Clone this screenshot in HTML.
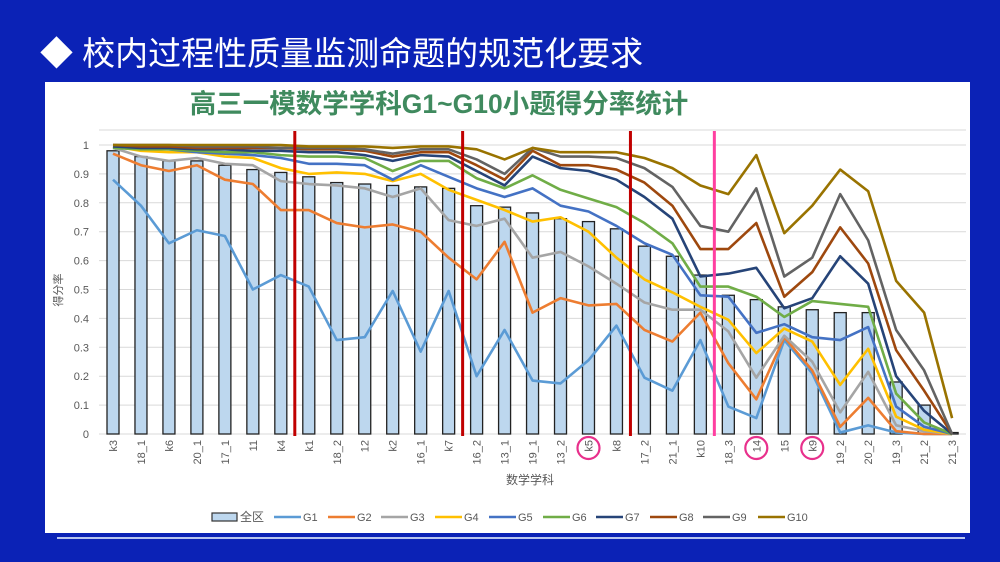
<!DOCTYPE html>
<html><head><meta charset="utf-8"><style>
body{margin:0;width:1000px;height:562px;overflow:hidden;background:#0b22b6;font-family:"Liberation Sans","Noto Sans CJK SC",sans-serif;}
#hdr{position:absolute;left:40px;top:27px;color:#fff;font-size:33px;font-family:"Liberation Sans","Noto Sans CJK SC",sans-serif;}
#panel{position:absolute;left:45px;top:82px;width:925px;height:451px;background:#fff;}
#ln{position:absolute;left:57px;top:537px;width:908px;height:2px;background:#b8c4f0;}
svg{position:absolute;left:0;top:0;}
</style></head><body>
<div id="hdr">◆&nbsp;校内过程性质量监测命题的规范化要求</div>
<div id="panel"></div><div id="ln"></div>
<svg id="s" width="1000" height="562" font-family="Liberation Sans, Noto Sans CJK SC, sans-serif"></svg>
<script>
const cats=["k3","18_1","k6","20_1","17_1","11","k4","k1","18_2","12","k2","16_1","k7","16_2","13_1","19_1","13_2","k5","k8","17_2","21_1","k10","18_3","14","15","k9","19_2","20_2","19_3","21_2","21_3"];
const bars=[0.98,0.96,0.945,0.945,0.93,0.915,0.905,0.89,0.87,0.865,0.86,0.855,0.85,0.79,0.785,0.765,0.745,0.735,0.71,0.65,0.615,0.55,0.48,0.465,0.44,0.43,0.42,0.42,0.18,0.1,0.005];
const S=[
["#5b9bd5",[0.88,0.79,0.66,0.705,0.685,0.5,0.55,0.51,0.325,0.335,0.495,0.285,0.495,0.2,0.36,0.185,0.175,0.255,0.375,0.195,0.15,0.325,0.095,0.055,0.325,0.21,0.005,0.03,0.005,0,0]],
["#ed7d31",[0.97,0.93,0.91,0.93,0.88,0.865,0.775,0.775,0.73,0.715,0.725,0.7,0.61,0.535,0.665,0.42,0.47,0.445,0.45,0.36,0.32,0.42,0.245,0.12,0.335,0.22,0.025,0.125,0.01,0,0]],
["#a5a5a5",[0.99,0.96,0.945,0.955,0.935,0.93,0.875,0.865,0.86,0.85,0.82,0.85,0.74,0.72,0.745,0.61,0.63,0.58,0.52,0.455,0.43,0.43,0.355,0.195,0.34,0.25,0.075,0.215,0.03,0.01,0]],
["#ffc000",[0.995,0.98,0.975,0.975,0.96,0.955,0.92,0.9,0.905,0.9,0.875,0.9,0.845,0.81,0.775,0.735,0.75,0.7,0.61,0.535,0.49,0.44,0.395,0.28,0.365,0.32,0.17,0.295,0.06,0.015,0]],
["#4472c4",[0.995,0.99,0.985,0.975,0.97,0.965,0.955,0.935,0.935,0.93,0.88,0.93,0.89,0.85,0.82,0.85,0.79,0.77,0.72,0.66,0.62,0.48,0.475,0.35,0.38,0.335,0.325,0.37,0.095,0.025,0]],
["#70ad47",[0.99,0.985,0.985,0.98,0.975,0.975,0.965,0.96,0.96,0.955,0.91,0.945,0.945,0.885,0.85,0.895,0.845,0.815,0.785,0.73,0.66,0.51,0.51,0.475,0.405,0.46,0.45,0.44,0.14,0.04,0]],
["#264478",[0.995,0.99,0.99,0.985,0.985,0.98,0.98,0.975,0.975,0.965,0.945,0.965,0.96,0.91,0.86,0.96,0.92,0.91,0.88,0.82,0.745,0.545,0.555,0.575,0.435,0.47,0.615,0.52,0.2,0.08,0]],
["#9e480e",[1,0.995,0.995,0.99,0.99,0.99,0.99,0.985,0.985,0.98,0.96,0.975,0.975,0.93,0.88,0.98,0.93,0.93,0.915,0.87,0.79,0.64,0.64,0.73,0.475,0.56,0.715,0.59,0.29,0.15,0]],
["#636363",[1,1,1,0.995,0.995,0.995,0.99,0.99,0.99,0.985,0.97,0.985,0.985,0.95,0.9,0.99,0.96,0.96,0.955,0.92,0.855,0.72,0.7,0.85,0.545,0.61,0.83,0.67,0.36,0.22,0]],
["#997300",[1,1,1,1,1,1,1,0.995,0.995,0.995,0.99,0.995,0.995,0.985,0.95,0.99,0.975,0.975,0.975,0.955,0.92,0.86,0.83,0.965,0.695,0.79,0.915,0.84,0.53,0.42,0.055]]];
const X=i=>113+27.97*i, Y=v=>434-289*v;
let h='';
h+='<text x="439" y="113" text-anchor="middle" font-size="26.5" font-weight="bold" fill="#3f8a5e">高三一模数学学科G1~G10小题得分率统计</text>';
h+='<line x1="99" y1="130" x2="966" y2="130" stroke="#d9d9d9"/>';
for(let k=0;k<=10;k++){const y=Y(k/10);h+=`<line x1="99" y1="${y}" x2="966" y2="${y}" stroke="#d9d9d9"/><text x="89" y="${y+4}" text-anchor="end" font-size="11" fill="#595959">${k==0?'0':k==10?'1':'0.'+k}</text>`;}
bars.forEach((b,i)=>{h+=`<rect x="${X(i)-6}" y="${Y(b)}" width="12" height="${289*b}" fill="#bdd7ee" stroke="#222" stroke-width="1.3"/>`;
h+=`<text transform="translate(${X(i)+4},${440}) rotate(-90)" text-anchor="end" font-size="11" fill="#595959">${cats[i]}</text>`;});
S.forEach(s=>{h+=`<polyline fill="none" stroke="${s[0]}" stroke-width="2.6" stroke-linejoin="round" points="${s[1].map((v,i)=>X(i)+','+Y(v)).join(' ')}"/>`;});
[[X(6.5),'#c00000'],[X(12.5),'#c00000'],[X(18.5),'#c00000'],[X(21.5),'#ff3fa0']].forEach(([x,c])=>{h+=`<line x1="${x}" y1="131" x2="${x}" y2="436" stroke="${c}" stroke-width="3"/>`;});
[17,23,25].forEach(i=>{h+=`<circle cx="${X(i)}" cy="448" r="11" fill="none" stroke="#e8308c" stroke-width="2.2"/>`;});
h+='<text transform="translate(62,290) rotate(-90)" text-anchor="middle" font-size="11" fill="#595959">得分率</text>';
h+='<text x="530" y="484" text-anchor="middle" font-size="12" fill="#595959">数学学科</text>';
h+='<rect x="212" y="513" width="25" height="8" fill="#bdd7ee" stroke="#333" stroke-width="1.2"/><text x="240" y="521" font-size="12" fill="#595959">全区</text>';
const lx=[274,328,381,435,489,543,596,650,703,758];
S.forEach((s,i)=>{h+=`<line x1="${lx[i]}" y1="517" x2="${lx[i]+27}" y2="517" stroke="${s[0]}" stroke-width="2.6"/><text x="${lx[i]+29}" y="521" font-size="11" fill="#595959">G${i+1}</text>`;});
document.getElementById('s').innerHTML=h;
</script>
</body></html>
